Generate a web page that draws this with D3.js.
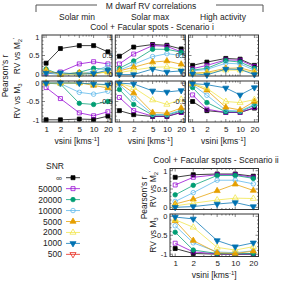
<!DOCTYPE html>
<html>
<head>
<meta charset="utf-8">
<script src="https://cdn.jsdelivr.net/npm/d3@7"></script>
<style>
body { margin: 0; background: #fff; }
svg { display: block; font-family: "Liberation Sans", Arial, sans-serif; }
</style>
</head>
<body>
<div id="fig"></div>
<script>
// x values and legend
var vsini = [1, 2, 5, 10, 20];
var snrLabels = ["\u221e", "50000", "20000", "10000", "5000", "2000", "1000", "500"];

// each panel: one row per SNR (same order as snrLabels, SNR 500 has no
// visible curve in the panels), one value per vsini
var solarMinM2 = [
    [0.29, 0.69, 0.77, 0.77, 0.60],
    [0.01, 0.05, 0.27, 0.33, 0.27],
    [0.13, -0.02, 0.04, 0.15, 0.12],
    [0.02, -0.02, 0.00, 0.06, 0.22],
    [0.10, -0.02, 0.03, 0.00, 0.06],
    [0.06, 0.00, -0.02, 0.02, 0.04],
    [0.02, 0.03, -0.01, 0.01, 0.10]
];
var solarMinM3 = [
    [-1.00, -1.00, -0.98, -0.99, -0.90],
    [-0.12, -0.42, -0.81, -0.89, -0.78],
    [0.00, -0.02, -0.55, -0.58, -0.50],
    [0.00, -0.01, -0.25, -0.30, -0.22],
    [0.00, 0.00, 0.01, -0.06, -0.13],
    [0.00, 0.00, 0.00, -0.02, -0.06],
    [0.00, 0.01, 0.00, -0.02, -0.04]
];
var solarMaxM2 = [
    [0.48, 0.73, 0.80, 0.78, 0.68],
    [0.27, 0.54, 0.77, 0.75, 0.60],
    [0.15, 0.35, 0.67, 0.67, 0.59],
    [0.10, 0.26, 0.47, 0.55, 0.50],
    [0.08, 0.18, 0.32, 0.35, 0.26],
    [0.03, 0.10, 0.18, 0.19, 0.12],
    [-0.02, -0.02, 0.13, 0.05, 0.08]
];
var solarMaxM3 = [
    [-0.75, -0.86, -0.91, -0.91, -0.80],
    [-0.39, -0.75, -0.90, -0.90, -0.80],
    [-0.17, -0.58, -0.87, -0.87, -0.76],
    [-0.04, -0.41, -0.85, -0.86, -0.73],
    [0.00, -0.27, -0.80, -0.82, -0.68],
    [0.00, -0.12, -0.46, -0.58, -0.44],
    [0.00, -0.02, -0.21, -0.24, -0.20]
];
var highActM2 = [
    [0.23, 0.32, 0.42, 0.40, 0.23],
    [0.14, 0.23, 0.38, 0.37, 0.20],
    [0.10, 0.15, 0.36, 0.32, 0.15],
    [0.08, 0.12, 0.29, 0.27, 0.10],
    [0.02, 0.04, 0.15, 0.16, 0.06],
    [0.00, 0.02, 0.10, 0.10, 0.04],
    [0.00, -0.03, 0.13, 0.12, -0.02]
];
var highActM3 = [
    [-0.50, -0.75, -0.80, -0.80, -0.68],
    [-0.32, -0.71, -0.80, -0.80, -0.66],
    [-0.12, -0.53, -0.78, -0.78, -0.60],
    [-0.04, -0.33, -0.74, -0.76, -0.58],
    [-0.02, -0.19, -0.66, -0.73, -0.50],
    [0.00, -0.14, -0.50, -0.53, -0.45],
    [-0.01, -0.04, -0.13, -0.32, -0.12]
];
var scen2M2 = [
    [0.82, 0.89, 0.91, 0.91, 0.85],
    [0.61, 0.82, 0.89, 0.89, 0.82],
    [0.34, 0.60, 0.87, 0.87, 0.79],
    [0.16, 0.40, 0.74, 0.74, 0.64],
    [0.09, 0.22, 0.45, 0.63, 0.46],
    [0.04, 0.11, 0.20, 0.25, 0.24],
    [0.00, 0.02, 0.09, 0.13, 0.02]
];
var scen2M3 = [
    [-0.85, -0.98, -1.00, -1.00, -1.00],
    [-0.71, -0.94, -0.99, -1.00, -0.99],
    [-0.42, -0.89, -0.98, -0.99, -0.98],
    [-0.25, -0.70, -0.94, -0.96, -0.91],
    [-0.12, -0.64, -0.96, -0.98, -0.92],
    [-0.09, -0.29, -0.82, -0.89, -0.80],
    [-0.02, -0.07, -0.64, -0.80, -0.70]
];

// line / marker styles per SNR
var styles = [
    {color: "#000000", shape: d3.symbolSquare, filled: true, rot: 0},
    {color: "#9400d3", shape: d3.symbolSquare, filled: false, rot: 0},
    {color: "#009e73", shape: d3.symbolCircle, filled: true, rot: 0},
    {color: "#56b4e9", shape: d3.symbolCircle, filled: false, rot: 0},
    {color: "#e69f00", shape: d3.symbolTriangle, filled: true, rot: 0},
    {color: "#f0e442", shape: d3.symbolTriangle, filled: false, rot: 0},
    {color: "#0072b2", shape: d3.symbolTriangle, filled: true, rot: 180},
    {color: "#e51e10", shape: d3.symbolTriangle, filled: false, rot: 180}
];

var W = 284, H = 281;
var FS = 8.5, TFS = 7.5;
var LW = 0.75;
var xDomain = [0.82, 24.4];

var svg = d3.select("#fig").append("svg")
    .attr("width", W)
    .attr("height", H);

function addMarker(g, st, cx, cy) {
    var size = st.shape === d3.symbolTriangle ? 16 : 16;
    g.append("path")
        .attr("d", d3.symbol().type(st.shape).size(size)())
        .attr("transform", "translate(" + cx + "," + cy + ") rotate(" + st.rot + ")")
        .attr("fill", st.filled ? st.color : "none")
        .attr("stroke", st.color)
        .attr("stroke-width", 0.75);
}

function drawPanel(left, top, w, h, yDom, yTicks, data, showX) {
    var x = d3.scaleLog().domain(xDomain).range([left, left + w]);
    var y = d3.scaleLinear().domain(yDom).range([top + h, top]);
    var g = svg.append("g");

    // ticks, inward, on all four sides
    var xMinor = [0.9, 3, 4, 6, 7, 8, 9];
    var yMinor = d3.range(Math.ceil(yDom[0] * 10), Math.floor(yDom[1] * 10) + 1)
        .map(function(d) { return d / 10; })
        .filter(function(d) { return yTicks.indexOf(d) < 0; });
    var tickG = g.append("g").attr("stroke", "#333").attr("stroke-width", 0.6);
    function xt(v, len) {
        tickG.append("line").attr("x1", x(v)).attr("x2", x(v)).attr("y1", top + h).attr("y2", top + h - len);
        tickG.append("line").attr("x1", x(v)).attr("x2", x(v)).attr("y1", top).attr("y2", top + len);
    }
    function yt(v, len) {
        tickG.append("line").attr("x1", left).attr("x2", left + len).attr("y1", y(v)).attr("y2", y(v));
        tickG.append("line").attr("x1", left + w).attr("x2", left + w - len).attr("y1", y(v)).attr("y2", y(v));
    }
    xMinor.forEach(function(v) { xt(v, 1.5); });
    vsini.forEach(function(v) { xt(v, 3); });
    yMinor.forEach(function(v) { yt(v, 1.5); });
    yTicks.forEach(function(v) { yt(v, 3); });

    // y tick labels
    var ya = g.append("g")
        .attr("transform", "translate(" + left + ",0)")
        .call(d3.axisLeft(y).tickValues(yTicks).tickSize(0).tickPadding(2.5)
            .tickFormat(function(d) { return String(d); }));
    ya.select(".domain").remove();
    ya.selectAll("text").attr("font-size", TFS).attr("font-family", null).attr("fill", "#222");

    if (showX) {
        var xa = g.append("g")
            .attr("transform", "translate(0," + (top + h) + ")")
            .call(d3.axisBottom(x).tickValues(vsini).tickSize(0).tickPadding(4)
                .tickFormat(function(d) { return String(d); }));
        xa.select(".domain").remove();
        xa.selectAll("text").attr("font-size", TFS + 0.5).attr("font-family", null).attr("fill", "#222");
    }

    // series
    data.forEach(function(vals, i) {
        var st = styles[i];
        var pts = vsini.map(function(v, j) { return [v, vals[j]]; });
        g.append("path")
            .attr("d", d3.line().x(function(d) { return x(d[0]); }).y(function(d) { return y(d[1]); })(pts))
            .attr("fill", "none")
            .attr("stroke", st.color)
            .attr("stroke-width", LW);
        pts.forEach(function(p) { addMarker(g, st, x(p[0]), y(p[1])); });
    });

    // frame
    g.append("rect")
        .attr("x", left).attr("y", top)
        .attr("width", w).attr("height", h)
        .attr("fill", "none")
        .attr("stroke", "#333")
        .attr("stroke-width", 1);
}

function vsiniLabel(cx, cy) {
    var t = svg.append("text")
        .attr("x", cx).attr("y", cy)
        .attr("text-anchor", "middle")
        .attr("font-size", FS)
        .attr("fill", "#222");
    t.append("tspan").text("vsini [kms");
    t.append("tspan").attr("dy", -3).attr("font-size", FS * 0.7).text("-1");
    t.append("tspan").attr("dy", 3).text("]");
}

function rvLabel(cx, cy, which) {
    var t = svg.append("text")
        .attr("transform", "translate(" + cx + "," + cy + ") rotate(-90)")
        .attr("text-anchor", "middle")
        .attr("font-size", FS)
        .attr("fill", "#222");
    t.append("tspan").text("RV vs M");
    if (which === 2) {
        t.append("tspan").attr("dy", 2).attr("font-size", FS * 0.7).text("2");
        t.append("tspan").attr("dy", -5).attr("font-size", FS * 0.7).text("'");
    } else {
        t.append("tspan").attr("dy", 2).attr("font-size", FS * 0.7).text("3");
    }
}

function plainText(x, y, s, anchor, rot) {
    return svg.append("text")
        .attr("transform", "translate(" + x + "," + y + ")" + (rot ? " rotate(" + rot + ")" : ""))
        .attr("text-anchor", anchor || "middle")
        .attr("font-size", FS)
        .attr("fill", "#222")
        .text(s);
}

// ---- header ----
var br = svg.append("g").attr("stroke", "#555").attr("stroke-width", 1).attr("fill", "none");
br.append("path").attr("d", "M36,12V5H97");
br.append("path").attr("d", "M216,5H263V12");
plainText(151, 9, "M dwarf RV correlations");
plainText(77, 20, "Solar min");
plainText(150, 20, "Solar max");
plainText(223, 20, "High activity");
plainText(152, 30, "Cool + Facular spots - Scenario i");

// ---- top row (scenario i) ----
var topDom = [-0.06, 1.06], botDom = [-1.06, 0.06];
var lefts = [42, 115.3, 188.5];
var PW = 70;
[[solarMinM2, solarMinM3], [solarMaxM2, solarMaxM3], [highActM2, highActM3]].forEach(function(pair, k) {
    drawPanel(lefts[k], 35, PW, 41, topDom, [0, 0.5, 1], pair[0], false);
    drawPanel(lefts[k], 81, PW, 41, botDom, [-1, -0.5, 0], pair[1], true);
    vsiniLabel(lefts[k] + PW / 2, 143.5);
});
plainText(8, 76, "Pearson's r", "middle", -90);
rvLabel(20, 56, 2);
rvLabel(20, 101, 3);

// ---- scenario ii ----
var L2 = 170, W2 = 88.5;
plainText(216, 163, "Cool + Facular spots - Scenario ii");
drawPanel(L2, 168.5, W2, 41, topDom, [0, 0.5, 1], scen2M2, false);
drawPanel(L2, 214, W2, 42.5, botDom, [-1, -0.5, 0], scen2M3, true);
vsiniLabel(L2 + W2 / 2, 277.5);
plainText(147, 198, "Pearson's r", "middle", -90);
rvLabel(156, 189, 2);
rvLabel(156, 235, 3);

// ---- legend ----
plainText(55, 169, "SNR");
snrLabels.forEach(function(s, i) {
    var ly = 177.7 + 10.95 * i;
    plainText(62, ly + 3, s, "end");
    svg.append("line")
        .attr("x1", 66).attr("x2", 80)
        .attr("y1", ly).attr("y2", ly)
        .attr("stroke", styles[i].color)
        .attr("stroke-width", LW);
    addMarker(svg, styles[i], 73, ly);
});
</script>
</body>
</html>
